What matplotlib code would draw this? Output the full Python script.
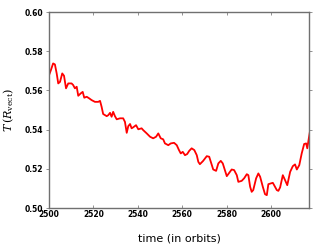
import numpy as np
import matplotlib
matplotlib.use("Agg")
import matplotlib.pyplot as plt

plt.rcParams["mathtext.fontset"] = "dejavuserif"

# time (orbits) and T(R_vect)
time = [2500.1, 2500.9, 2501.9, 2502.7, 2503.5, 2504.2, 2505.0, 2506.0, 2506.8, 2507.7,
        2508.7, 2510.2, 2510.9, 2511.7, 2512.5, 2513.2, 2514.3, 2515.2, 2515.9, 2517.0,
        2518.1, 2519.2, 2520.7, 2522.2, 2523.0, 2523.7, 2524.4, 2526.0, 2526.7, 2527.5,
        2528.2, 2528.9, 2529.7, 2530.5, 2532.0, 2533.4, 2534.2, 2535.0, 2535.7, 2536.5,
        2537.2, 2537.9, 2539.2, 2540.2, 2541.7, 2542.4, 2544.0, 2545.5, 2546.9, 2548.2,
        2549.2, 2550.3, 2551.4, 2552.2, 2553.7, 2554.8, 2556.3, 2557.5, 2558.5, 2559.3,
        2560.2, 2561.2, 2562.2, 2563.1, 2564.2, 2565.4, 2566.5, 2567.2, 2567.9, 2569.3,
        2571.0, 2572.1, 2573.9, 2575.2, 2576.2, 2577.3, 2578.2, 2580.0, 2581.1, 2582.2,
        2583.3, 2584.5, 2585.2, 2586.7, 2587.8, 2589.0, 2589.7, 2590.5, 2591.2, 2591.9,
        2593.2, 2594.2, 2595.0, 2596.2, 2597.2, 2598.0, 2598.7, 2599.8, 2600.7, 2601.3,
        2602.5, 2603.2, 2604.0, 2605.2, 2606.2, 2607.2, 2608.5, 2609.7, 2610.7, 2611.5,
        2612.6, 2613.7, 2614.8, 2615.7, 2616.2, 2616.9, 2617.5]
t_vect = [0.5679, 0.5704, 0.5738, 0.5733, 0.5687, 0.5636, 0.5644, 0.5687, 0.5675, 0.5611,
          0.5636, 0.5636, 0.5628, 0.5611, 0.5619, 0.5573, 0.5585, 0.5593, 0.5563, 0.5568,
          0.5560, 0.5551, 0.5542, 0.5542, 0.5547, 0.5517, 0.5480, 0.5469, 0.5474, 0.5486,
          0.5466, 0.5491, 0.5469, 0.5453, 0.5458, 0.5458, 0.5440, 0.5384, 0.5418, 0.5429,
          0.5407, 0.5412, 0.5423, 0.5402, 0.5407, 0.5398, 0.5381, 0.5364, 0.5356, 0.5364,
          0.5381, 0.5356, 0.5351, 0.5330, 0.5321, 0.5330, 0.5333, 0.5321, 0.5296, 0.5279,
          0.5287, 0.5270, 0.5276, 0.5292, 0.5305, 0.5296, 0.5270, 0.5236, 0.5224, 0.5240,
          0.5265, 0.5262, 0.5197, 0.5190, 0.5228, 0.5241, 0.5228, 0.5163, 0.5180, 0.5197,
          0.5194, 0.5168, 0.5134, 0.5139, 0.5152, 0.5173, 0.5168, 0.5109, 0.5083, 0.5092,
          0.5152, 0.5177, 0.5160, 0.5109, 0.5071, 0.5066, 0.5122, 0.5126, 0.5129, 0.5117,
          0.5092, 0.5088, 0.5106, 0.5168, 0.5143, 0.5117, 0.5185, 0.5214, 0.5223, 0.5197,
          0.5219, 0.5279, 0.5327, 0.5330, 0.5305, 0.5356, 0.5398]

xticks = [2500, 2520, 2540, 2560, 2580, 2600]
yticks = [0.50, 0.52, 0.54, 0.56, 0.58, 0.60]

fig = plt.figure(figsize=(3.26, 2.46), dpi=100)
ax = fig.add_axes([0.150, 0.154, 0.798, 0.797])
ax.plot(time, t_vect, color="red", lw=1.3)

ax.set_xlim(2500, 2617)
ax.set_ylim(0.50, 0.60)
ax.set_xticks(xticks)
ax.set_yticks(yticks)
ax.set_xticklabels([str(v) for v in xticks])
ax.set_yticklabels(["%.2f" % v for v in yticks])

for s in ax.spines.values():
    s.set_color("#707070")
    s.set_linewidth(1.0)
ax.tick_params(axis="both", labelsize=5.5, length=2.5, width=0.6, color="#808080", pad=1.5)
ax.tick_params(axis="x", direction="in", top=True)
ax.tick_params(axis="y", direction="out", right=True)
for lab in ax.get_xticklabels() + ax.get_yticklabels():
    lab.set_fontweight("bold")

ax.set_xlabel("time (in orbits)", fontsize=8, labelpad=10)
ax.set_ylabel(r"$T\,(R_{\rm vect})$", fontsize=8, labelpad=6)

fig.savefig("out.png", dpi=100)
